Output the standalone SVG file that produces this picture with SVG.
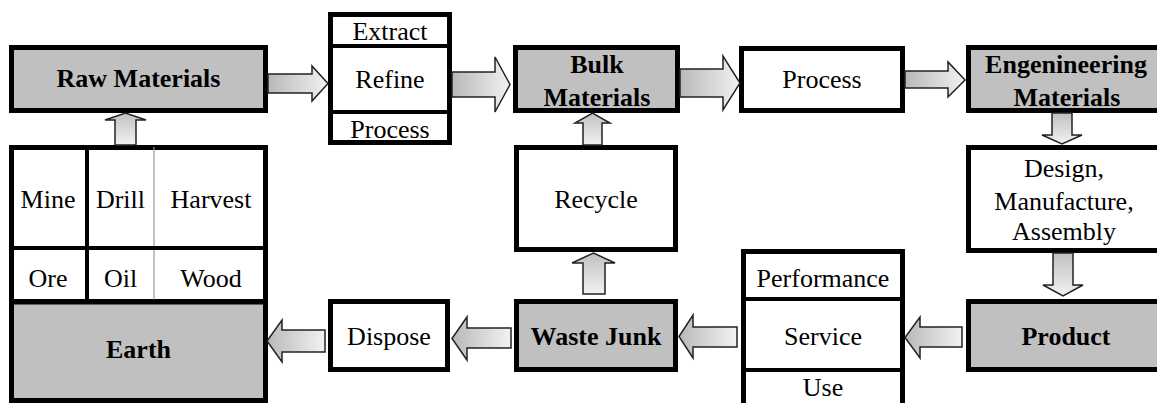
<svg xmlns="http://www.w3.org/2000/svg" width="1157" height="403" viewBox="0 0 1157 403" font-family="'Liberation Serif', 'DejaVu Serif', 'Times New Roman', serif">
<style>
.box{fill:#ffffff;stroke:#000;stroke-width:5}
.gray{fill:#c0c0c0;stroke:#000;stroke-width:5}
.div{stroke:#000;stroke-width:4}
.thin{stroke:#999;stroke-width:1.2}
.t{font-family:'Liberation Serif', 'DejaVu Serif', 'Times New Roman', serif;font-size:26px;fill:#000;text-anchor:middle}
.b{font-weight:bold}
.ah{fill:url(#gh);stroke:#222;stroke-width:1.5;stroke-linejoin:miter}
.av{fill:url(#gv);stroke:#222;stroke-width:1.5;stroke-linejoin:miter}
</style>
<defs>
<linearGradient id="gh" x1="0" y1="0" x2="1" y2="0">
<stop offset="0" stop-color="#b8b8b8"/>
<stop offset="1" stop-color="#f2f2f2"/>
</linearGradient>
<linearGradient id="gv" x1="0" y1="0" x2="0" y2="1">
<stop offset="0" stop-color="#c0c0c0"/>
<stop offset="1" stop-color="#f2f2f2"/>
</linearGradient>
</defs>
<rect width="1157" height="403" fill="#fff"/>

<g id="raw-materials">
<rect class="gray" x="11.5" y="47.5" width="254" height="63"/>
<text class="t b" x="138.5" y="87">Raw Materials</text>
</g>

<g id="extract-refine-process">
<rect class="box" x="330.5" y="14.5" width="119" height="128"/>
<line class="div" x1="330" y1="46" x2="450" y2="46"/>
<line class="div" x1="330" y1="112" x2="450" y2="112"/>
<text class="t" x="390" y="40">Extract</text>
<text class="t" x="390" y="88">Refine</text>
<text class="t" x="390" y="138">Process</text>
</g>

<g id="bulk-materials">
<rect class="gray" x="515.5" y="47.5" width="162" height="63"/>
<text class="t b" x="597" y="73">Bulk</text>
<text class="t b" x="597" y="106">Materials</text>
</g>

<g id="process">
<rect class="box" x="741.5" y="48.5" width="161" height="62"/>
<text class="t" x="822" y="88">Process</text>
</g>

<g id="engineering-materials">
<rect class="gray" x="968.5" y="47.5" width="200" height="63"/>
<text class="t b" x="1066" y="73">Engenineering</text>
<text class="t b" x="1067" y="106">Materials</text>
</g>

<g id="mine-drill-harvest">
<rect class="box" x="11.5" y="147.5" width="254" height="154"/>
<line class="div" x1="87" y1="147" x2="87" y2="302"/>
<line class="thin" x1="154" y1="147" x2="154" y2="302"/>
<line class="div" x1="11" y1="248" x2="266" y2="248"/>
<text class="t" x="48" y="208">Mine</text>
<text class="t" x="120.5" y="208">Drill</text>
<text class="t" x="211" y="208">Harvest</text>
<text class="t" x="48" y="287">Ore</text>
<text class="t" x="120.5" y="287">Oil</text>
<text class="t" x="211" y="287">Wood</text>
</g>

<g id="earth">
<rect class="gray" x="11.5" y="302" width="254" height="98.5"/>
<text class="t b" x="138.5" y="358">Earth</text>
</g>

<g id="recycle">
<rect class="box" x="516.5" y="147.5" width="159" height="102"/>
<text class="t" x="596" y="208">Recycle</text>
</g>

<g id="dispose">
<rect class="box" x="330.5" y="301.5" width="117" height="68"/>
<text class="t" x="389" y="345">Dispose</text>
</g>

<g id="waste-junk">
<rect class="gray" x="516.5" y="301.5" width="159" height="68"/>
<text class="t b" x="596" y="345">Waste Junk</text>
</g>

<g id="performance-service-use">
<rect class="box" x="743.5" y="251.5" width="159" height="160"/>
<line class="div" x1="743" y1="299" x2="903" y2="299"/>
<line class="div" x1="743" y1="370" x2="903" y2="370"/>
<text class="t" x="823" y="287">Performance</text>
<text class="t" x="823" y="345">Service</text>
<text class="t" x="823" y="396" font-size="25">Use</text>
</g>

<g id="design-manufacture-assembly">
<rect class="box" x="968.5" y="147.5" width="200" height="103"/>
<text class="t" x="1064" y="177">Design,</text>
<text class="t" x="1064" y="210">Manufacture,</text>
<text class="t" x="1064" y="240">Assembly</text>
</g>

<g id="product">
<rect class="gray" x="968.5" y="301.5" width="200" height="68"/>
<text class="t b" x="1066" y="345">Product</text>
</g>

<g id="connectors">
<polygon class="ah" points="268,74 312,74 312,66 328,83.5 312,101 312,93 268,93"/>
<polygon class="ah" points="452,72 495,72 495,57 510,84.5 495,112 495,97 452,97"/>
<polygon class="ah" points="680,69 723,69 723,56 740,83 723,110 723,97 680,97"/>
<polygon class="ah" points="905,71 948,71 948,62 965,80 948,97 948,88 905,88"/>
<polygon class="av" points="115,145 115,120 105,120 125.5,113 146,120 136,120 136,145"/>
<polygon class="av" points="583,145 583,123 575,123 592.5,113 610,123 602,123 602,145"/>
<polygon class="av" points="1052,113 1072,113 1072,135 1082,135 1062,144 1042,135 1052,135"/>
<polygon class="av" points="1053,253 1073,253 1073,285 1083,285 1063,296 1043,285 1053,285"/>
<polygon class="av" points="583,294 583,263 572,263 593.5,253 615,263 605,263 605,294"/>
<polygon class="ah" points="325,330 282,330 282,320 267,341 282,362 282,352 325,352"/>
<polygon class="ah" points="511,328 467,328 467,317 452,338.5 467,360 467,348 511,348"/>
<polygon class="ah" points="737,327 693,327 693,315 679,336.5 693,358 693,347 737,347"/>
<polygon class="ah" points="962,327 920,327 920,317 905,337.5 920,358 920,347 962,347"/>
</g>
</svg>
